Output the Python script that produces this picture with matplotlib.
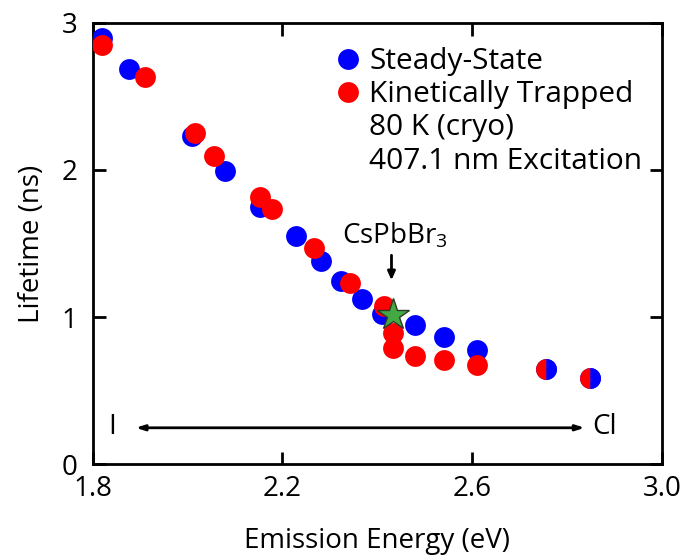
import numpy as np
import matplotlib
matplotlib.use("Agg")
import matplotlib.pyplot as plt
from matplotlib.lines import Line2D

# ---- data ----
ss_energy = [1.821, 1.876, 2.010, 2.080, 2.153, 2.229, 2.281, 2.324, 2.368,
             2.410, 2.479, 2.540, 2.611, 2.756, 2.849]
ss_lifetime = [2.894, 2.683, 2.230, 1.992, 1.749, 1.550, 1.382, 1.244, 1.122,
               1.024, 0.945, 0.866, 0.775, 0.646, 0.589]

kt_energy = [1.821, 1.911, 2.015, 2.057, 2.152, 2.179, 2.266, 2.342, 2.415,
             2.433, 2.433, 2.480, 2.540, 2.611, 2.756, 2.849]
kt_lifetime = [2.850, 2.633, 2.248, 2.094, 1.813, 1.731, 1.468, 1.235, 1.074,
               0.893, 0.791, 0.734, 0.707, 0.673, 0.646, 0.589]

cspbbr3_energy = [2.433]
cspbbr3_lifetime = [1.013]

x_ticks = [1.8, 2.2, 2.6, 3.0]
x_ticklabels = ["1.8", "2.2", "2.6", "3.0"]
y_ticks = [0, 1, 2, 3]
y_ticklabels = ["0", "1", "2", "3"]

FONT = "Open Sans"
FS = 20
LFS = 21.5
plt.rcParams["font.family"] = [FONT, "DejaVu Sans"]
plt.rcParams["mathtext.default"] = "regular"

fig = plt.figure(figsize=(6.82, 5.55), dpi=100)
ax = fig.add_axes([92.5 / 682, 1 - 464.3 / 555, (662 - 92.5) / 682, (464.3 - 22.7) / 555])

ms = 15
ax.plot(ss_energy, ss_lifetime, linestyle="none", marker="o", ms=ms,
        mfc="#0000ff", mec="none", zorder=3)

kt_e = np.array(kt_energy)
kt_t = np.array(kt_lifetime)
ss_e = np.array(ss_energy)
ss_t = np.array(ss_lifetime)
shared = np.array([np.any(np.isclose(ss_e, e) & np.isclose(ss_t, t)) for e, t in zip(kt_e, kt_t)])

ax.plot(kt_e[~shared], kt_t[~shared], linestyle="none", marker="o", ms=ms,
        mfc="#ff0000", mec="none", zorder=4)
ax.plot(kt_e[shared], kt_t[shared], linestyle="none", marker="o", ms=ms,
        fillstyle="left", mfc="#ff0000", markerfacecoloralt="#0000ff",
        mec="none", zorder=4)

ax.plot(cspbbr3_energy, cspbbr3_lifetime, linestyle="none", marker="*", ms=24,
        mfc="#44a843", mec="#2b3a2b", mew=1.0, zorder=5)

ax.set_xlim(1.8, 3.0)
ax.set_ylim(0, 3)
ax.set_xticks(x_ticks)
ax.set_xticklabels(x_ticklabels)
ax.set_yticks(y_ticks)
ax.set_yticklabels(y_ticklabels)
ax.tick_params(direction="in", length=9, width=2, top=True, right=True,
               labelsize=FS)
ax.tick_params(axis="x", pad=8)
ax.tick_params(axis="y", pad=11)
for s in ax.spines.values():
    s.set_linewidth(2)

ax.set_xlabel("Emission Energy (eV)", fontsize=FS, labelpad=17)
ax.set_ylabel("Lifetime (ns)", fontsize=FS, labelpad=11)

# annotations
ax.text(2.438, 1.55, "CsPbBr$_3$", fontsize=FS, ha="center", va="center")
ax.annotate("", xy=(2.430, 1.25), xytext=(2.430, 1.42),
            arrowprops=dict(arrowstyle="-|>,head_length=0.5,head_width=0.22",
                            lw=2, color="black", shrinkA=0, shrinkB=0))
ax.annotate("", xy=(2.837, 0.248), xytext=(1.891, 0.248),
            arrowprops=dict(arrowstyle="<|-|>,head_length=0.5,head_width=0.16",
                            lw=2, color="black", shrinkA=0, shrinkB=0))
ax.text(1.842, 0.255, "I", fontsize=FS, ha="center", va="center")
ax.text(2.880, 0.255, "Cl", fontsize=FS, ha="center", va="center")

# legend
handles = [
    Line2D([], [], linestyle="none", marker="o", ms=ms, mfc="#0000ff", mec="none"),
    Line2D([], [], linestyle="none", marker="o", ms=ms, mfc="#ff0000", mec="none"),
    Line2D([], [], linestyle="none", marker="none"),
    Line2D([], [], linestyle="none", marker="none"),
]
labels = ["Steady-State", "Kinetically Trapped", "80 K (cryo)", "407.1 nm Excitation"]
leg = ax.legend(handles, labels, loc="upper left",
                bbox_to_anchor=((335 - 92.5) / (662 - 92.5), (464.3 - 47) / (464.3 - 22.7)),
                frameon=False, fontsize=LFS, borderpad=0, borderaxespad=0,
                handlelength=0.85, handletextpad=0.3, labelspacing=0.14)

fig.savefig("out.png", dpi=100)
